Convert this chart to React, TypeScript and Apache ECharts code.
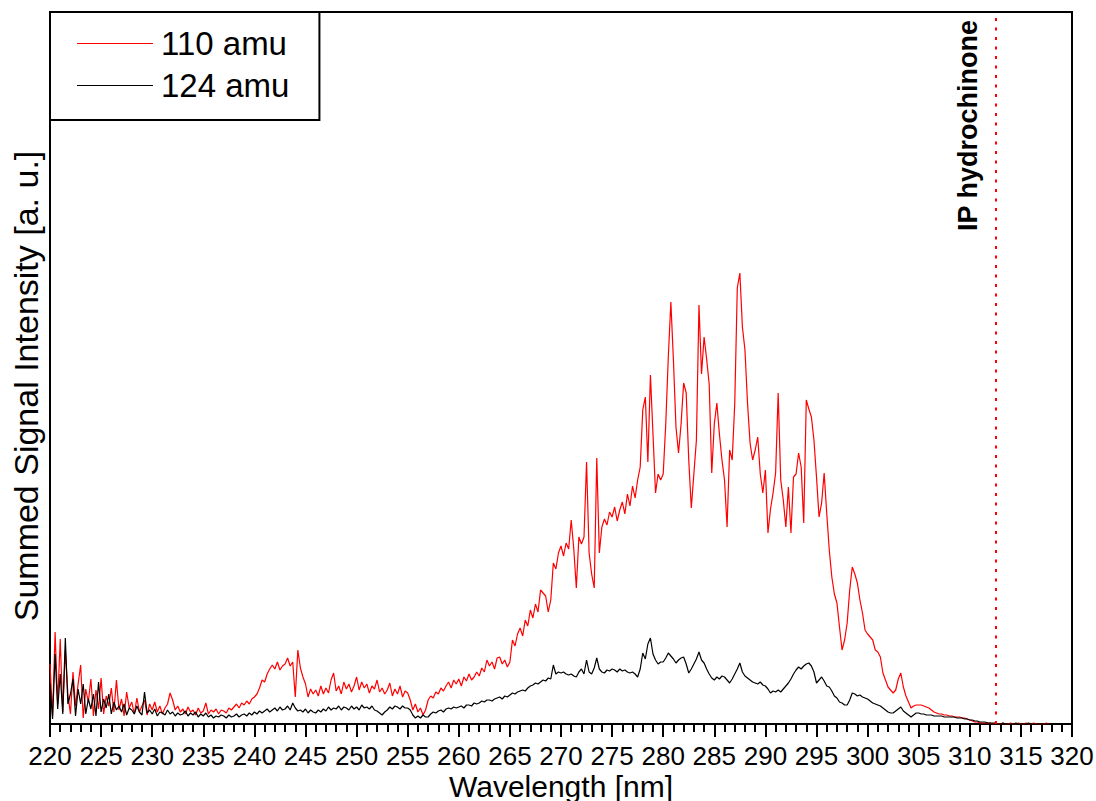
import React, { useEffect, useRef } from "react";
import * as echarts from "echarts";

// Wavelength sampling of both traces (nm)
const X_START = 220;
const X_STEP = 0.25;

// Summed signal of the 110 amu mass channel, one value per 0.25 nm from 220 nm
const signal110: number[] = [
  60, 8, 92, 20, 85, 12, 74, 30, 10, 52, 18, 40, 59, 6, 35, 22,
  45, 8, 34, 15, 46, 10, 28, 18, 36, 12, 44, 14, 25, 8, 32, 16,
  22, 10, 26, 12, 18, 24, 9, 20, 14, 22, 12, 18, 10, 16, 20, 31,
  24, 14, 18, 12, 15, 10, 17, 12, 14, 9, 16, 11, 13, 21, 10, 14,
  12, 15, 10, 14, 13, 11, 16, 14, 17, 20, 16, 21, 19, 23, 20, 25,
  27, 30, 36, 44, 42, 50, 55, 59, 55, 62, 54, 58, 60, 66, 58, 62,
  27, 74, 56, 47, 40, 27, 35, 30, 34, 28, 38, 30, 36, 31, 44, 51,
  33, 38, 30, 42, 35, 40, 32, 38, 47, 34, 42, 36, 40, 31, 38, 35,
  44, 32, 36, 30, 34, 41, 28, 35, 30, 38, 27, 33, 31, 24, 14, 20,
  12, 16, 9, 14, 24, 28, 26, 32, 30, 36, 33, 38, 42, 36, 44, 40,
  45, 38, 47, 43, 50, 44, 47, 52, 48, 56, 52, 64, 58, 62, 55, 66,
  67, 60, 64, 57, 62, 84, 78, 90, 96, 88, 104, 98, 114, 106, 120, 112,
  134, 131, 128, 112, 124, 161, 155, 171, 178, 168, 181, 175, 204, 175, 136, 187,
  180, 187, 262, 171, 150, 136, 266, 171, 197, 205, 199, 212, 207, 217, 203, 214,
  222, 210, 230, 218, 238, 226, 244, 257, 314, 327, 262, 349, 290, 231, 250, 244,
  250, 300, 367, 422, 364, 297, 271, 300, 341, 331, 264, 216, 250, 284, 419, 350,
  387, 365, 340, 251, 300, 321, 290, 264, 244, 197, 274, 264, 320, 436, 451, 397,
  374, 321, 281, 264, 274, 287, 250, 231, 254, 191, 215, 231, 251, 331, 244, 224,
  197, 237, 191, 247, 250, 271, 257, 201, 324, 315, 307, 284, 247, 207, 221, 251,
  211, 174, 147, 130, 121, 97, 74, 84, 101, 134, 157, 150, 141, 124, 111, 94,
  90, 87, 84, 74, 72, 67, 51, 44, 37, 34, 31, 34, 45, 51, 37, 28,
  22, 16, 18, 19, 19, 19, 18, 17, 16, 14, 12, 11, 10, 10, 9, 9,
  8, 8, 7, 7, 7, 6, 6, 5, 4, 3, 2, 2, 1, 1, 1, 1,
  1, 0, 1, 0, 0, 1, 0, 0, 1, 0, 0, 1, 0, 0, 1, 0,
  0, 1, 0, 0, 0, 0, 1, 0,
];

// Summed signal of the 124 amu mass channel, same sampling
const signal124: number[] = [
  40, 5, 70, 15, 50, 10, 86, 20, 30, 45, 8, 35, 20, 40, 10, 25,
  15, 30, 8, 42, 12, 25, 16, 30, 10, 22, 14, 18, 12, 20, 9, 16,
  14, 10, 18, 12, 9, 32, 11, 14, 10, 15, 8, 12, 11, 9, 14, 10,
  12, 8, 11, 9, 10, 13, 8, 11, 9, 12, 7, 10, 8, 11, 7, 9,
  6, 8, 7, 9, 8, 6, 9, 7, 8, 10, 7, 9, 10, 8, 11, 9,
  12, 10, 13, 11, 13, 15, 12, 14, 16, 13, 17, 14, 15, 18, 14, 21,
  16, 13, 14, 12, 15, 11, 14, 12, 11, 14, 12, 15, 13, 17, 14, 16,
  15, 18, 14, 17, 16, 14, 18, 15, 17, 14, 19, 16, 17, 15, 18, 14,
  13, 11, 9, 12, 14, 17, 15, 18, 17, 15, 18, 16, 16, 14, 9, 6,
  8, 6, 9, 7, 7, 10, 12, 11, 13, 14, 12, 15, 16, 15, 17, 16,
  17, 18, 16, 19, 19, 18, 21, 20, 21, 23, 22, 24, 24, 23, 25, 26,
  27, 25, 28, 27, 29, 31, 30, 32, 33, 34, 33, 36, 38, 39, 41, 40,
  42, 44, 43, 46, 45, 59, 50, 52, 51, 52, 50, 49, 50, 48, 47, 52,
  55, 50, 64, 52, 50, 56, 66, 55, 52, 51, 54, 53, 55, 54, 52, 55,
  53, 54, 52, 51, 52, 50, 47, 55, 71, 65, 80, 86, 70, 64, 60, 62,
  62, 66, 71, 68, 65, 61, 64, 66, 67, 60, 51, 55, 60, 65, 72, 64,
  61, 55, 50, 46, 44, 47, 45, 48, 47, 44, 41, 45, 50, 55, 61, 52,
  48, 46, 44, 42, 41, 40, 42, 39, 38, 35, 31, 33, 32, 34, 32, 35,
  38, 41, 45, 50, 54, 57, 55, 58, 60, 61, 58, 52, 41, 44, 47, 43,
  38, 37, 33, 28, 26, 22, 21, 19, 19, 24, 31, 30, 28, 29, 27, 26,
  25, 23, 21, 20, 19, 18, 16, 14, 12, 11, 11, 13, 15, 17, 13, 11,
  9, 7, 9, 11, 11, 10, 10, 9, 9, 9, 8, 8, 8, 8, 7, 7,
  7, 7, 7, 6, 6, 6, 5, 5, 4, 4, 3, 3, 2, 2, 2, 1,
  1, 1, 1, 0, 0, 1, 0, 0, 0, 0, 1, 0, 0, 0, 0, 1,
  0, 0, 0, 0, 0, 0, 0, 0,
];

const seriesNames = ["110 amu", "124 amu"];
const seriesColors = ["#ff0000", "#000000"];

// Axis range
const X_MIN = 220;
const X_MAX = 320;
const X_INTERVAL = 5;
const Y_MAX = 712;

const X_TITLE = "Wavelength [nm]";
const Y_TITLE = "Summed Signal Intensity [a. u.]";

// Ionisation potential marker
const IP_WAVELENGTH = 312.5;
const IP_LABEL = "IP hydrochinone";

const FONT = "'Liberation Sans', Arial, Helvetica, sans-serif";

const toPairs = (values: number[]) =>
  values.map((v, i) => [X_START + i * X_STEP, v]);

export default function App() {
  const ref = useRef<HTMLDivElement>(null);

  useEffect(() => {
    if (!ref.current) return;
    const chart = echarts.init(ref.current, undefined, { renderer: "svg" });

    chart.setOption({
      animation: false,
      backgroundColor: "#ffffff",
      grid: {
        left: 50,
        right: 24,
        top: 12,
        bottom: 77,
        outerBoundsMode: "none",
        show: true,
        borderColor: "#000",
        borderWidth: 2,
        backgroundColor: "transparent",
      },
      legend: {
        data: seriesNames.map((name) => ({ name, icon: "rect" })),
        orient: "vertical",
        left: 50,
        top: 12,
        padding: [15, 30, 18, 27],
        itemWidth: 76,
        itemHeight: 1.2,
        itemGap: 9,
        borderColor: "#000",
        borderWidth: 2,
        backgroundColor: "#fff",
        textStyle: {
          fontFamily: FONT,
          fontSize: 33,
          lineHeight: 30,
          color: "#000",
          padding: [0, 0, 0, 3],
        },
      },
      graphic: [
        {
          type: "text",
          x: 26,
          y: 386,
          rotation: Math.PI / 2,
          silent: true,
          style: {
            text: Y_TITLE,
            fontFamily: FONT,
            fontSize: 34,
            fill: "#000",
            align: "center",
            verticalAlign: "middle",
          },
        },
        {
          type: "text",
          x: 561,
          y: 786,
          silent: true,
          style: {
            text: X_TITLE,
            fontFamily: FONT,
            fontSize: 30,
            fill: "#000",
            align: "center",
            verticalAlign: "middle",
          },
        },
      ],
      xAxis: {
        type: "value",
        min: X_MIN,
        max: X_MAX,
        interval: X_INTERVAL,
        axisLine: { show: true, lineStyle: { color: "#000", width: 2 } },
        axisTick: { show: true, inside: false, length: 13, lineStyle: { color: "#000", width: 2 } },
        minorTick: { show: true, splitNumber: 5, length: 8, lineStyle: { color: "#000", width: 2 } },
        axisLabel: { fontFamily: FONT, fontSize: 26, lineHeight: 26, color: "#000", margin: 19 },
        splitLine: { show: false },
      },
      yAxis: {
        type: "value",
        min: 0,
        max: Y_MAX,
        axisLine: { show: true, lineStyle: { color: "#000", width: 2 } },
        axisTick: { show: false },
        axisLabel: { show: false },
        splitLine: { show: false },
      },
      series: [
        {
          name: seriesNames[0],
          type: "line",
          data: toPairs(signal110),
          symbol: "none",
          silent: true,
          color: seriesColors[0],
          lineStyle: { color: seriesColors[0], width: 1.2 },
          markLine: {
            silent: true,
            symbol: "none",
            lineStyle: { color: "#ff0000", type: [3, 6.5], width: 2 },
            label: {
              show: true,
              formatter: IP_LABEL,
              position: "insideEndTop",
              fontFamily: FONT,
              fontWeight: "bold",
              fontSize: 27,
              color: "#000",
              distance: [8, 14],
            },
            data: [{ xAxis: IP_WAVELENGTH }],
          },
        },
        {
          name: seriesNames[1],
          type: "line",
          data: toPairs(signal124),
          symbol: "none",
          silent: true,
          color: seriesColors[1],
          lineStyle: { color: seriesColors[1], width: 1.2 },
        },
      ],
    });

    return () => chart.dispose();
  }, []);

  return (
    <div
      ref={ref}
      style={{ position: "absolute", left: 0, top: 0, width: 1096, height: 801 }}
    />
  );
}
